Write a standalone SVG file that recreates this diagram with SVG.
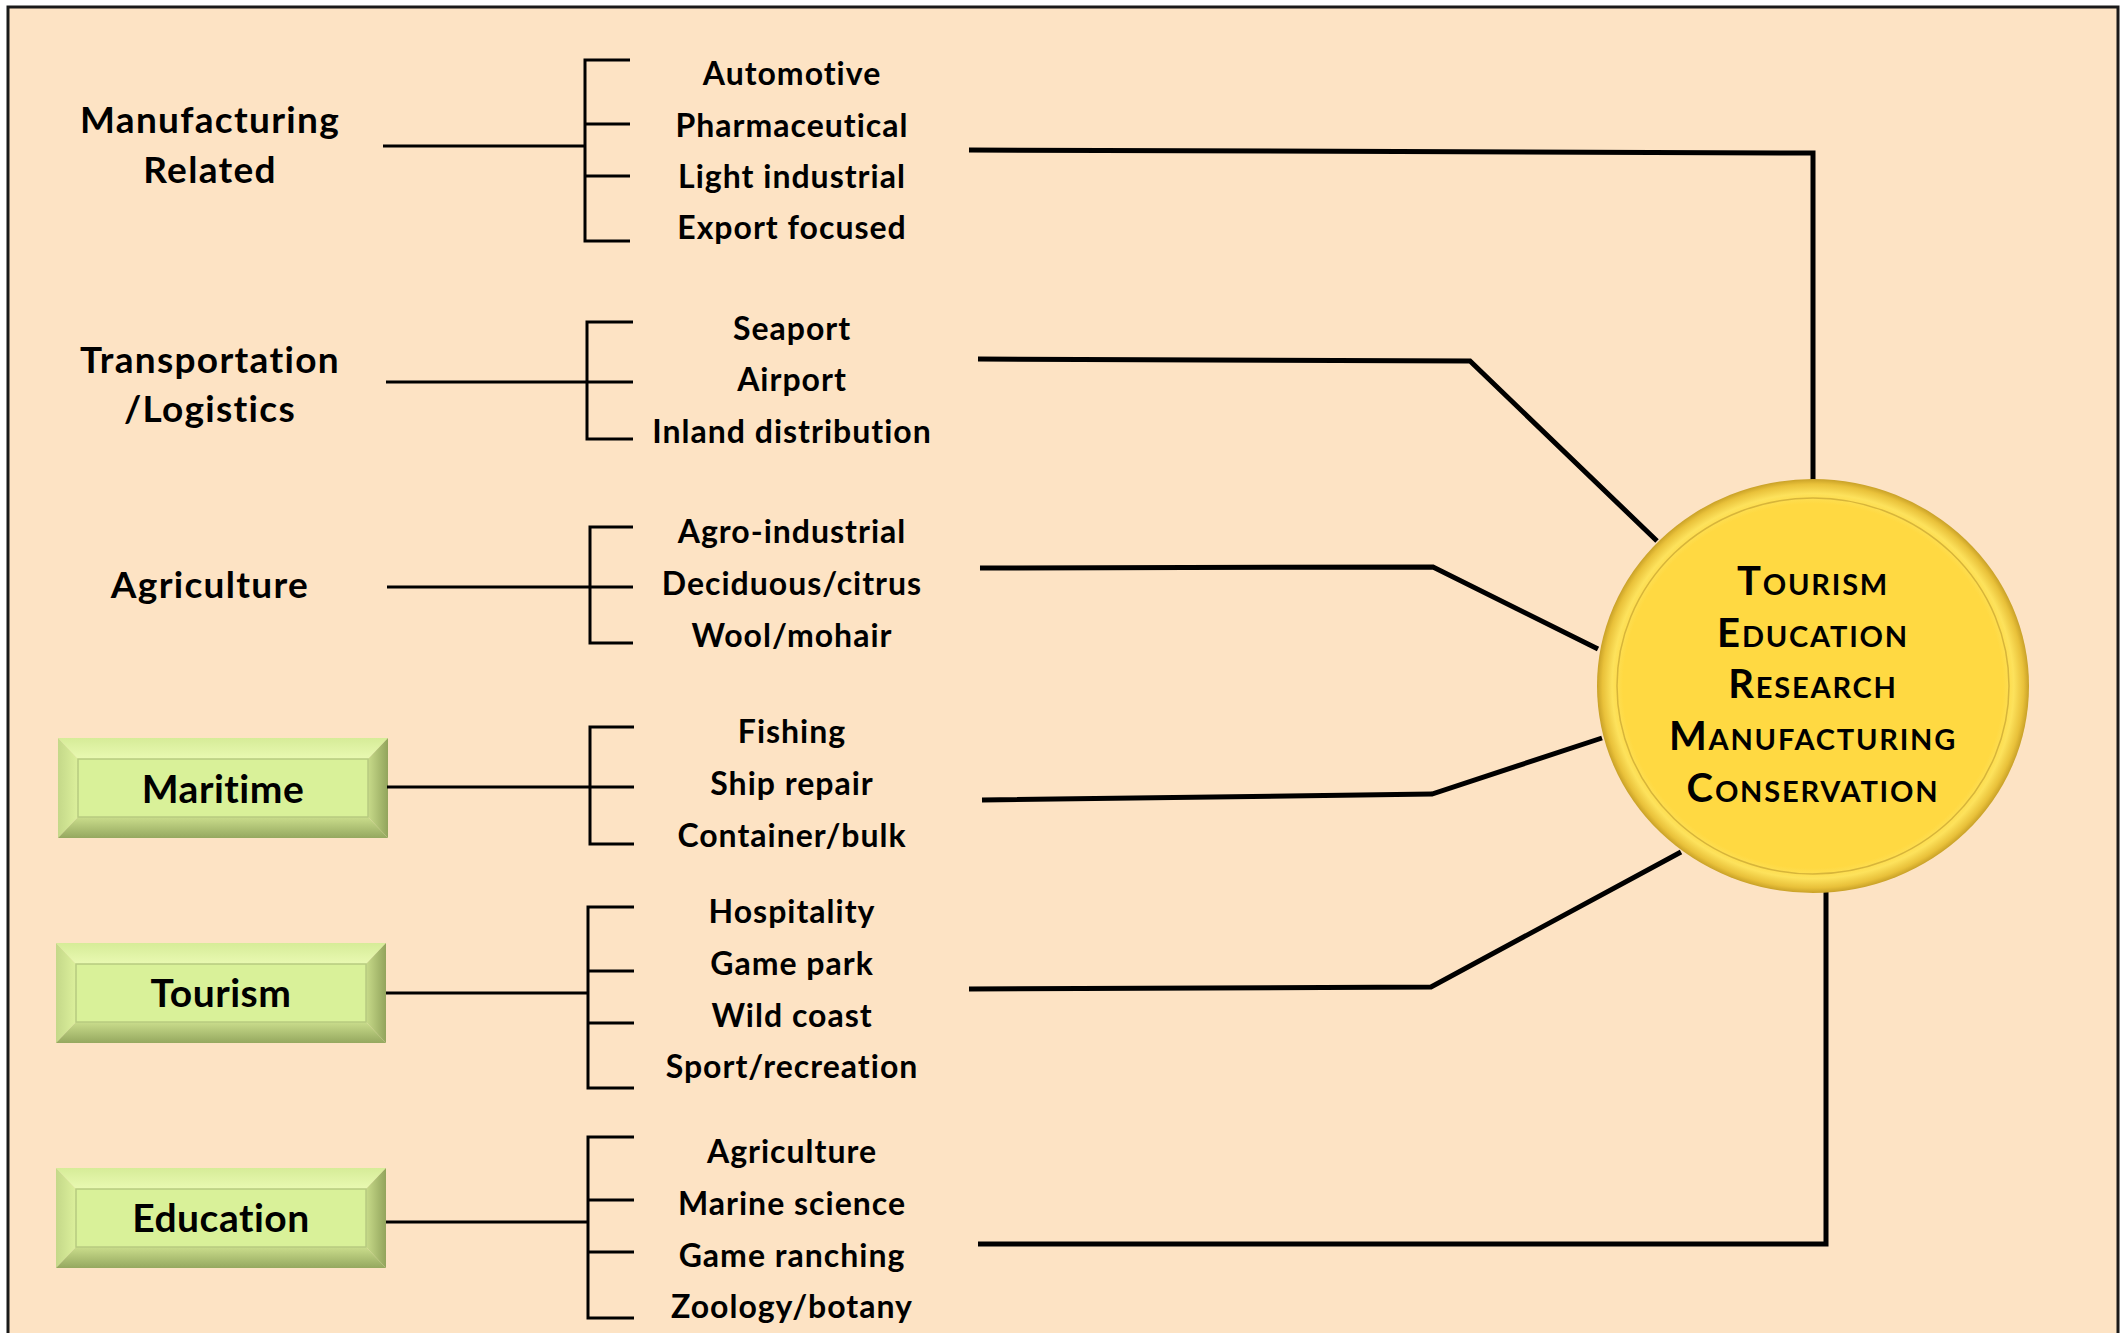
<svg xmlns="http://www.w3.org/2000/svg" xmlns:xlink="http://www.w3.org/1999/xlink" width="2125" height="1333" viewBox="0 0 2125 1333">
<defs>
<style>
.t{font-family:Lato,"Liberation Sans",sans-serif;font-weight:700;fill:#000;text-anchor:middle}
.lbl{font-size:37px;letter-spacing:1.3px}
.box{font-size:39px;letter-spacing:0.5px}
.item{font-size:32px;letter-spacing:1px}
.cap1{font-size:40px}
.cap2{font-size:29px}
.ctr{letter-spacing:1.8px}
.br{fill:none;stroke:#000;stroke-width:3}
.con{fill:none;stroke:#000;stroke-width:5;stroke-linejoin:miter}
</style>
<linearGradient id="gTop" x1="0" y1="0" x2="0" y2="1">
<stop offset="0" stop-color="#D6EC98"/><stop offset="1" stop-color="#E9F9B2"/>
</linearGradient>
<linearGradient id="gBot" x1="0" y1="0" x2="0" y2="1">
<stop offset="0" stop-color="#CADD8C"/><stop offset="1" stop-color="#95A85F"/>
</linearGradient>
<linearGradient id="gRight" x1="0" y1="0" x2="1" y2="0">
<stop offset="0" stop-color="#C8DB8A"/><stop offset="1" stop-color="#92A45C"/>
</linearGradient>
<linearGradient id="gLeft" x1="0" y1="0" x2="1" y2="0">
<stop offset="0" stop-color="#C4D889"/><stop offset="1" stop-color="#DCF09C"/>
</linearGradient>
<radialGradient id="gRim" cx="0.5" cy="0.5" r="0.5">
<stop offset="0" stop-color="#FFD942"/>
<stop offset="0.88" stop-color="#FFD942"/>
<stop offset="0.93" stop-color="#FDE25C"/>
<stop offset="0.975" stop-color="#E9C13A"/>
<stop offset="1" stop-color="#C9A127"/>
</radialGradient>
<symbol id="bevel" viewBox="0 0 330 100" width="330" height="100">
<polygon points="0,0 330,0 310,21 20,21" fill="url(#gTop)"/>
<polygon points="0,0 20,21 20,79 0,100" fill="url(#gLeft)"/>
<polygon points="330,0 330,100 310,79 310,21" fill="url(#gRight)"/>
<polygon points="0,100 330,100 310,79 20,79" fill="url(#gBot)"/>
<rect x="20" y="21" width="290" height="58" fill="#D9F199" stroke="#B7CA80" stroke-width="1.5"/>
</symbol>
</defs>
<rect x="0" y="0" width="2125" height="1333" fill="#FFFFFF"/>
<rect x="8" y="7" width="2110" height="1340" fill="#FDE3C4"/>
<path d="M8,1345 V7 H2118 V1345" fill="none" stroke="#1a1a1a" stroke-width="3"/>

<g id="connectors">
<path class="con" d="M969,150 L1813,153 L1813,480"/>
<path class="con" d="M978,359 L1470,361 L1657,541"/>
<path class="con" d="M980,568 L1433,567 L1598,649"/>
<path class="con" d="M982,800 L1432,794 L1602,738"/>
<path class="con" d="M969,989 L1431,987 L1681,852"/>
<path class="con" d="M978,1244 L1826,1244 L1826,892"/>
</g>

<g id="node-manufacturing">
<text class="t lbl" x="210" y="133">Manufacturing</text>
<text class="t lbl" x="210" y="183">Related</text>
<path class="br" d="M383,146 H585 M630,60 H585 V241 H630 M585,124 H630 M585,176 H630"/>
<text class="t item" x="792" y="85">Automotive</text>
<text class="t item" x="792" y="137">Pharmaceutical</text>
<text class="t item" x="792" y="188">Light industrial</text>
<text class="t item" x="792" y="239">Export focused</text>
</g>

<g id="node-transportation">
<text class="t lbl" x="210" y="373">Transportation</text>
<text class="t lbl" x="210" y="422">/Logistics</text>
<path class="br" d="M386,382 H633 M633,322 H587 V439 H633"/>
<text class="t item" x="792" y="340">Seaport</text>
<text class="t item" x="792" y="391">Airport</text>
<text class="t item" x="792" y="443">Inland distribution</text>
</g>

<g id="node-agriculture">
<text class="t lbl" x="210" y="598">Agriculture</text>
<path class="br" d="M387,587 H633 M633,527 H590 V643 H633"/>
<text class="t item" x="792" y="543">Agro-industrial</text>
<text class="t item" x="792" y="595">Deciduous/citrus</text>
<text class="t item" x="792" y="647">Wool/mohair</text>
</g>

<g id="node-maritime">
<use xlink:href="#bevel" href="#bevel" x="58" y="738" width="330" height="100"/>
<text class="t box" x="223" y="803">Maritime</text>
<path class="br" d="M387,787 H634 M634,727 H590 V844 H634"/>
<text class="t item" x="792" y="743">Fishing</text>
<text class="t item" x="792" y="795">Ship repair</text>
<text class="t item" x="792" y="847">Container/bulk</text>
</g>

<g id="node-tourism">
<use xlink:href="#bevel" href="#bevel" x="56" y="943" width="330" height="100"/>
<text class="t box" x="221" y="1007">Tourism</text>
<path class="br" d="M386,993 H588 M634,907 H588 V1088 H634 M588,971 H634 M588,1023 H634"/>
<text class="t item" x="792" y="923">Hospitality</text>
<text class="t item" x="792" y="975">Game park</text>
<text class="t item" x="792" y="1027">Wild coast</text>
<text class="t item" x="792" y="1078">Sport/recreation</text>
</g>

<g id="node-education">
<use xlink:href="#bevel" href="#bevel" x="56" y="1168" width="330" height="100"/>
<text class="t box" x="221" y="1232">Education</text>
<path class="br" d="M386,1222 H588 M634,1137 H588 V1318 H634 M588,1200 H634 M588,1252 H634"/>
<text class="t item" x="792" y="1163">Agriculture</text>
<text class="t item" x="792" y="1215">Marine science</text>
<text class="t item" x="792" y="1267">Game ranching</text>
<text class="t item" x="792" y="1318">Zoology/botany</text>
</g>

<g id="node-center">
<ellipse cx="1813" cy="686" rx="216" ry="207" fill="url(#gRim)"/>
<ellipse cx="1813" cy="686" rx="196" ry="188" fill="none" stroke="#CDAA34" stroke-width="1.5" opacity="0.8"/>
<text class="t ctr" x="1813" y="595"><tspan class="cap1">T</tspan><tspan class="cap2">OURISM</tspan></text>
<text class="t ctr" x="1813" y="647"><tspan class="cap1">E</tspan><tspan class="cap2">DUCATION</tspan></text>
<text class="t ctr" x="1813" y="698"><tspan class="cap1">R</tspan><tspan class="cap2">ESEARCH</tspan></text>
<text class="t ctr" x="1813" y="750"><tspan class="cap1">M</tspan><tspan class="cap2">ANUFACTURING</tspan></text>
<text class="t ctr" x="1813" y="802"><tspan class="cap1">C</tspan><tspan class="cap2">ONSERVATION</tspan></text>
</g>
</svg>
